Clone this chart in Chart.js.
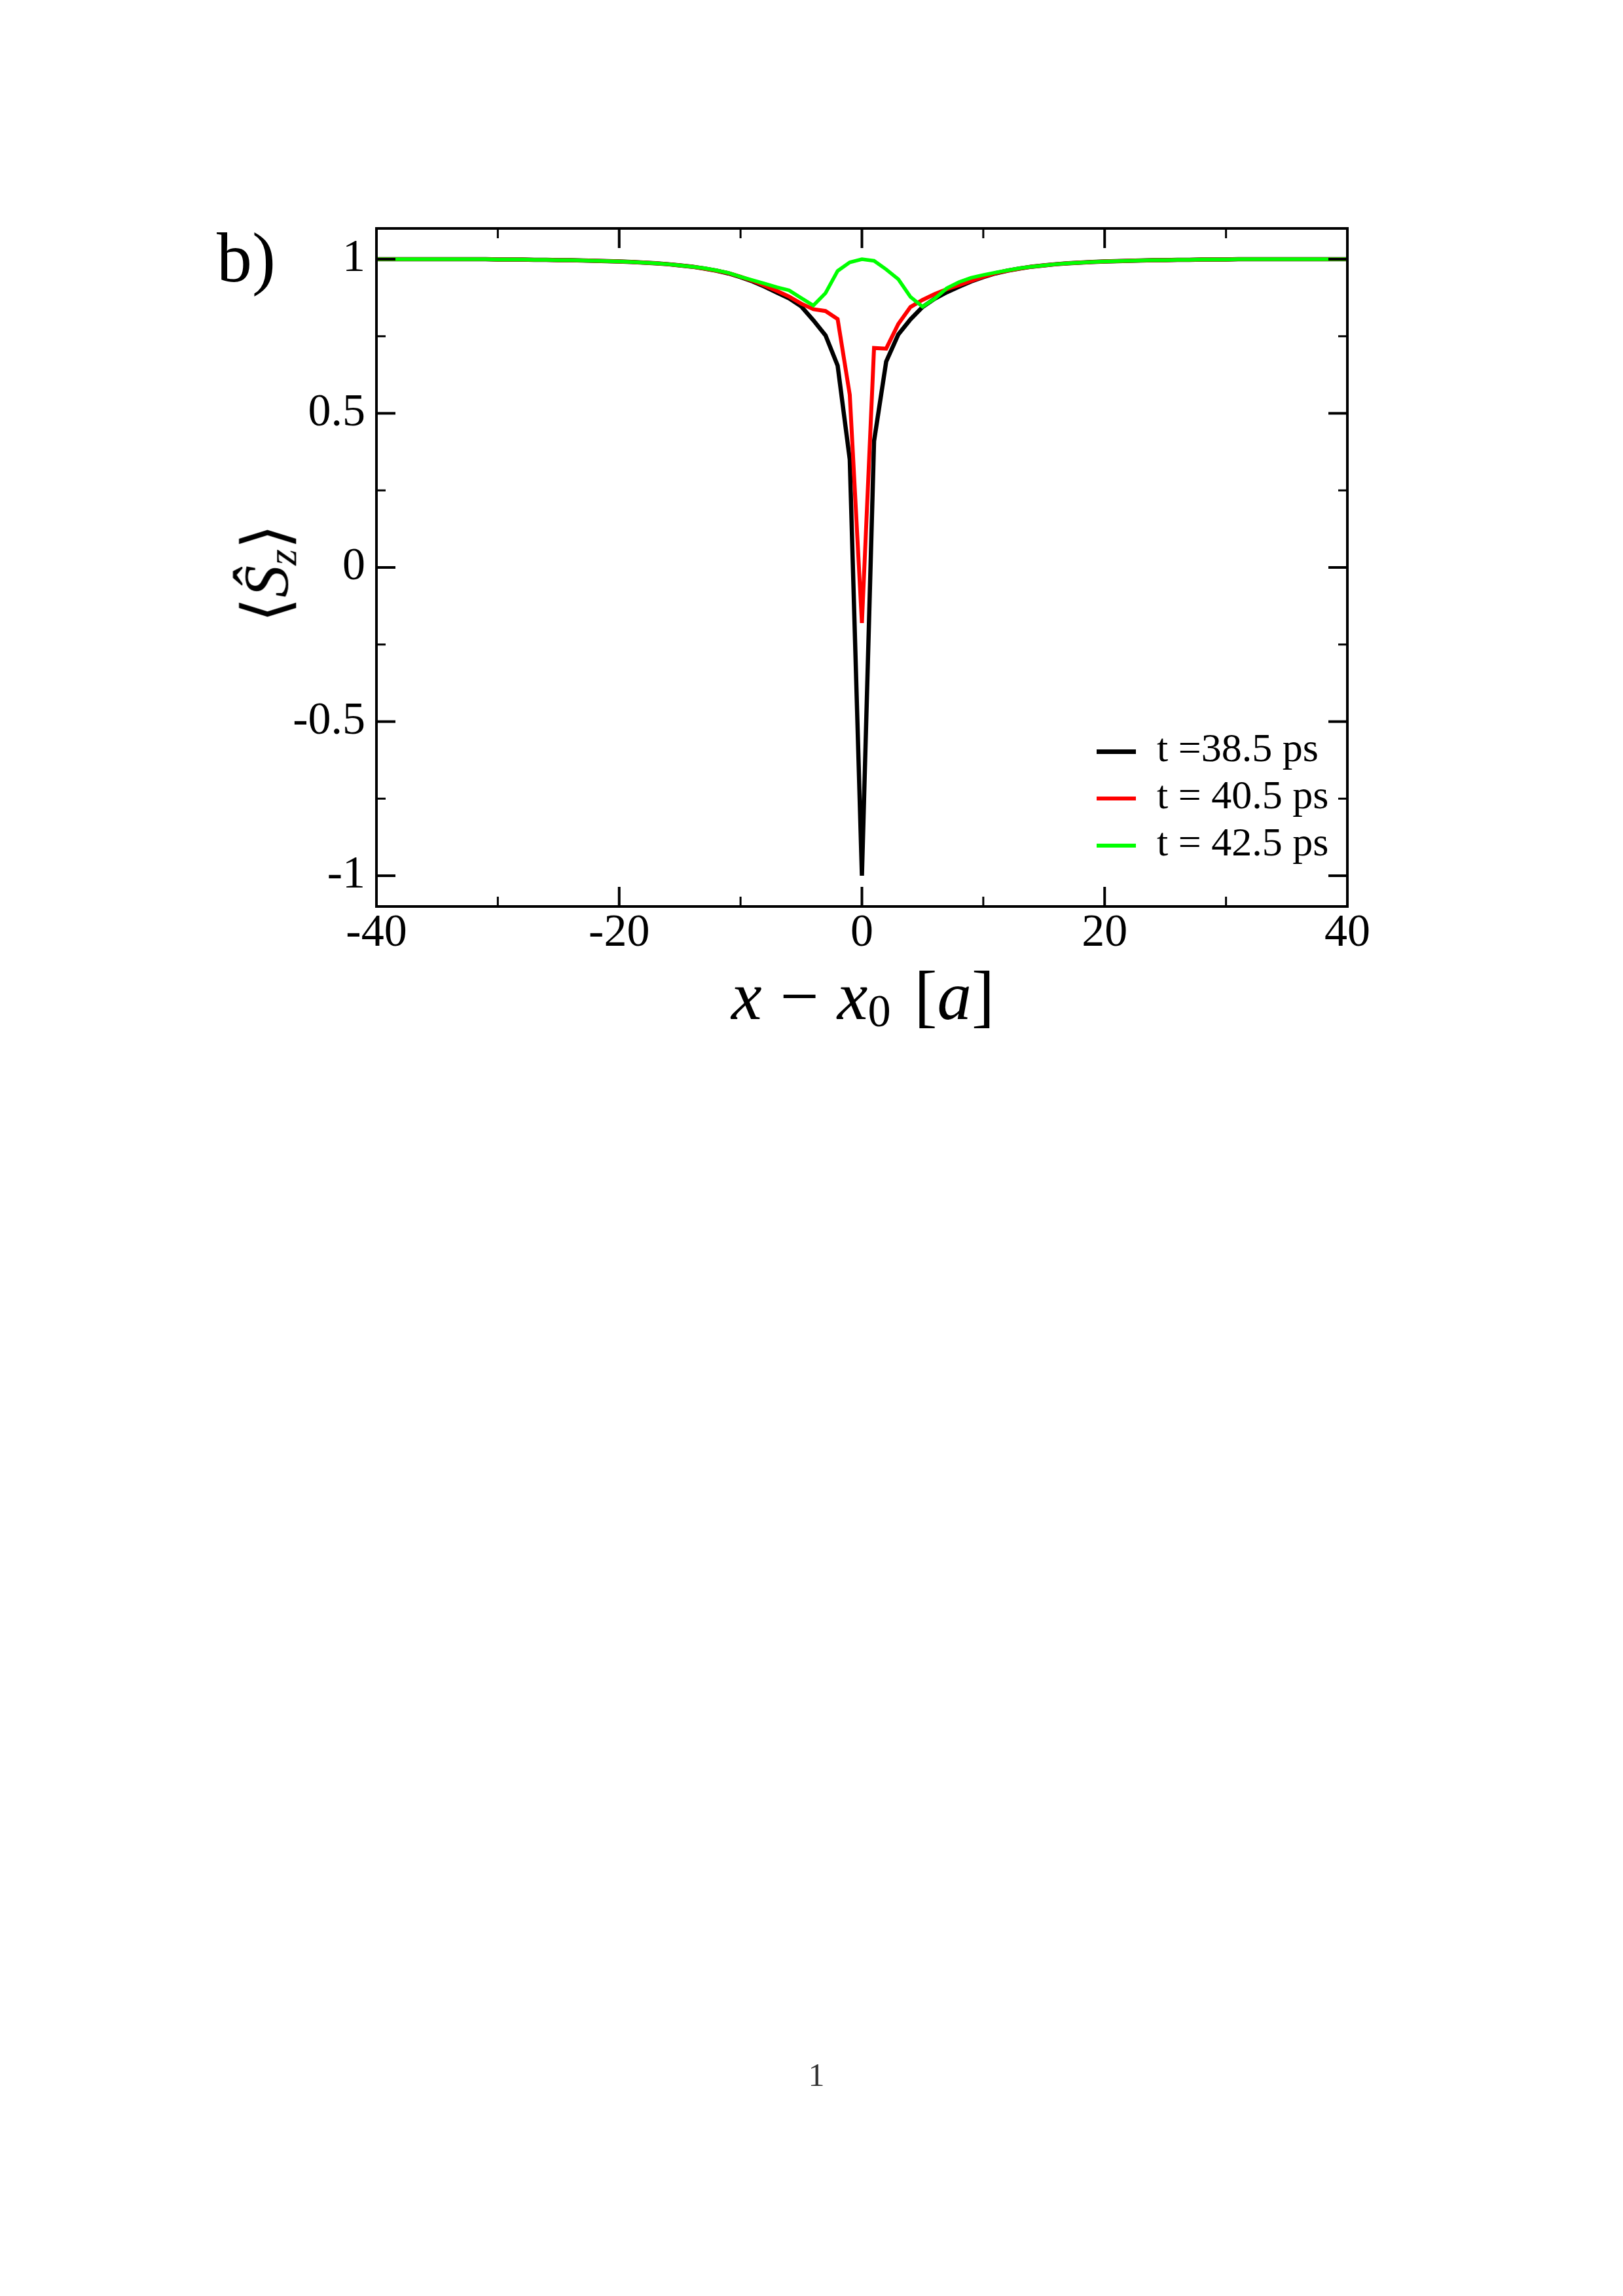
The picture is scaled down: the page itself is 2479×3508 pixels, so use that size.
<!DOCTYPE html>
<html>
<head>
<meta charset="utf-8">
<title>Sz profile</title>
<script src="https://cdn.jsdelivr.net/npm/chart.js@4.4.1/dist/chart.umd.min.js"></script>
<style>
  html, body { margin: 0; padding: 0; background: #fff; }
  body {
    width: 2479px; height: 3508px; position: relative; overflow: hidden;
    font-family: "Liberation Serif", "DejaVu Serif", serif; color: #000;
  }
  #chart-wrap { position: absolute; left: 0; top: 0; width: 2479px; height: 1700px; }
  .txt { position: absolute; white-space: nowrap; line-height: 1; }
  #panel-label { left: 331px; top: 340px; font-size: 108px; }
  #x-title { left: 1318px; top: 1469px; font-size: 105px; transform: translateX(-50%); }
  #x-title i { font-style: italic; }
  #x-title .op { margin: 0 28px; }
  #x-title sub { font-size: 0.67em; vertical-align: -0.16em; font-style: normal; }
  #x-title .unit { margin-left: 36px; }
  #y-title { left: 410px; top: 876px; font-size: 98px; transform: translate(-50%, -50%) rotate(-90deg); }
  #y-title sub { font-size: 0.65em; vertical-align: -0.2em; }
  #page-num { left: 1247px; top: 3145px; font-size: 50px; color: #333; transform: translateX(-50%); }
  .legend-line { position: absolute; left: 1675px; width: 60px; }
  .legend-text { position: absolute; left: 1767px; font-size: 62px; line-height: 1; white-space: nowrap; }
</style>
</head>
<body>
<div id="chart-wrap"><canvas id="szChart"></canvas></div>
<div class="txt" id="panel-label">b)</div>
<div class="txt" id="y-title">&#10216;<i>&#348;</i><sub><i>z</i></sub>&#10217;</div>
<div class="txt" id="x-title"><i>x</i><span class="op">&#8722;</span><i>x</i><sub>0</sub><span class="unit">[<i>a</i>]</span></div>
<div class="txt" id="page-num">1</div>
<div id="legend"></div>

<script>
const X_POS = [
  -40, -39, -38, -37, -36, -35, -34, -33, -32, -31,
  -30, -29, -28, -27, -26, -25, -24, -23, -22, -21,
  -20, -19, -18, -17, -16, -15, -14, -13, -12, -11,
  -10, -9, -8, -7, -6, -5, -4, -3, -2, -1,
  0,
  1, 2, 3, 4, 5, 6, 7, 8, 9, 10,
  11, 12, 13, 14, 15, 16, 17, 18, 19, 20,
  21, 22, 23, 24, 25, 26, 27, 28, 29, 30,
  31, 32, 33, 34, 35, 36, 37, 38, 39, 40,
];

// <Sz> at t = 38.5 ps
const SZ_T385 = [
  1.0, 1.0, 1.0, 1.0, 1.0, 1.0, 1.0, 1.0, 1.0, 1.0,
  0.999, 0.999, 0.999, 0.998, 0.998, 0.997, 0.997, 0.996, 0.995, 0.994,
  0.993, 0.991, 0.989, 0.987, 0.984, 0.980, 0.976, 0.970, 0.963, 0.954,
  0.942, 0.928, 0.911, 0.892, 0.873, 0.847, 0.802, 0.753, 0.655, 0.35,
  -1.0,
  0.41, 0.668, 0.756, 0.805, 0.845, 0.872, 0.893, 0.911, 0.928, 0.942,
  0.954, 0.963, 0.970, 0.976, 0.980, 0.984, 0.987, 0.989, 0.991, 0.993,
  0.994, 0.995, 0.996, 0.997, 0.997, 0.998, 0.998, 0.999, 0.999, 0.999,
  1.0, 1.0, 1.0, 1.0, 1.0, 1.0, 1.0, 1.0, 1.0, 1.0,
];

// <Sz> at t = 40.5 ps
const SZ_T405 = [
  1.0, 1.0, 1.0, 1.0, 1.0, 1.0, 1.0, 1.0, 1.0, 1.0,
  0.999, 0.999, 0.999, 0.998, 0.998, 0.997, 0.997, 0.996, 0.995, 0.994,
  0.993, 0.991, 0.989, 0.987, 0.984, 0.980, 0.976, 0.970, 0.963, 0.955,
  0.943, 0.930, 0.914, 0.897, 0.879, 0.856, 0.838, 0.832, 0.806, 0.56,
  -0.18,
  0.712, 0.71, 0.79, 0.845, 0.868, 0.887, 0.903, 0.916, 0.930, 0.943,
  0.955, 0.963, 0.970, 0.976, 0.980, 0.984, 0.987, 0.989, 0.991, 0.993,
  0.994, 0.995, 0.996, 0.997, 0.997, 0.998, 0.998, 0.999, 0.999, 0.999,
  1.0, 1.0, 1.0, 1.0, 1.0, 1.0, 1.0, 1.0, 1.0, 1.0,
];

// <Sz> at t = 42.5 ps
const SZ_T425 = [
  1.0, 1.0, 1.0, 1.0, 1.0, 1.0, 1.0, 1.0, 1.0, 1.0,
  0.999, 0.999, 0.999, 0.998, 0.998, 0.997, 0.997, 0.996, 0.995, 0.994,
  0.993, 0.991, 0.989, 0.987, 0.984, 0.980, 0.976, 0.971, 0.964, 0.956,
  0.943, 0.932, 0.921, 0.909, 0.899, 0.874, 0.85, 0.89, 0.962, 0.99,
  1.0,
  0.995, 0.967, 0.935, 0.878, 0.846, 0.872, 0.906, 0.926, 0.940, 0.949,
  0.957, 0.964, 0.971, 0.976, 0.980, 0.984, 0.987, 0.989, 0.991, 0.993,
  0.994, 0.995, 0.996, 0.997, 0.997, 0.998, 0.998, 0.999, 0.999, 0.999,
  1.0, 1.0, 1.0, 1.0, 1.0, 1.0, 1.0, 1.0, 1.0, 1.0,
];

const SERIES_LABELS = ["t =38.5 ps", "t = 40.5 ps", "t = 42.5 ps"];

const X_TICKS = [-40, -20, 0, 20, 40];
const X_MINOR_TICKS = [-30, -10, 10, 30];
const Y_TICKS = [-1, -0.5, 0, 0.5, 1];
const Y_MINOR_TICKS = [-0.75, -0.25, 0.25, 0.75];

function toPoints(values) {
  return X_POS.map((x, i) => ({ x, y: values[i] }));
}

// xmgrace-style box with inward ticks on all four sides
const frameTicks = {
  id: "frameTicks",
  afterDatasetsDraw(chart) {
    const { ctx, chartArea: a, scales } = chart;
    const sx = scales.x;
    const sy = scales.y;
    ctx.save();
    ctx.strokeStyle = "#000";
    ctx.lineCap = "butt";

    const tickX = (v, len) => {
      const px = sx.getPixelForValue(v);
      ctx.beginPath();
      ctx.moveTo(px, a.bottom);
      ctx.lineTo(px, a.bottom - len);
      ctx.moveTo(px, a.top);
      ctx.lineTo(px, a.top + len);
      ctx.stroke();
    };
    const tickY = (v, len) => {
      const py = sy.getPixelForValue(v);
      ctx.beginPath();
      ctx.moveTo(a.left, py);
      ctx.lineTo(a.left + len, py);
      ctx.moveTo(a.right, py);
      ctx.lineTo(a.right - len, py);
      ctx.stroke();
    };

    ctx.lineWidth = 4;
    X_TICKS.forEach((v) => tickX(v, 30));
    Y_TICKS.forEach((v) => tickY(v, 29));
    ctx.lineWidth = 3;
    X_MINOR_TICKS.forEach((v) => tickX(v, 15));
    Y_MINOR_TICKS.forEach((v) => tickY(v, 14));

    ctx.lineWidth = 4;
    ctx.strokeRect(a.left, a.top, a.right - a.left, a.bottom - a.top);
    ctx.restore();
  },
};

function renderLegend(chart) {
  const box = document.getElementById("legend");
  const rowCenters = [1148, 1220, 1292];
  chart.data.datasets.forEach((ds, i) => {
    const c = rowCenters[i];
    const w = ds.legendLineWidth;
    const line = document.createElement("div");
    line.className = "legend-line";
    line.style.top = `${c - w / 2}px`;
    line.style.height = `${w}px`;
    line.style.background = ds.borderColor;
    const text = document.createElement("div");
    text.className = "legend-text";
    text.style.top = `${c - 37}px`;
    text.textContent = ds.label;
    box.appendChild(line);
    box.appendChild(text);
  });
}

Chart.defaults.font.family = "'Liberation Serif', 'Times New Roman', serif";
Chart.defaults.color = "#000";

// order: higher is drawn first, so green ends up on top like the original
const ctx = document.getElementById("szChart");
const szChart = new Chart(ctx, {
  type: "line",
  data: {
    datasets: [
      { label: SERIES_LABELS[0], data: toPoints(SZ_T385), borderColor: "#000000", borderWidth: 6.5, legendLineWidth: 7, order: 3 },
      { label: SERIES_LABELS[1], data: toPoints(SZ_T405), borderColor: "#ff0000", borderWidth: 6, legendLineWidth: 6, order: 2 },
      { label: SERIES_LABELS[2], data: toPoints(SZ_T425), borderColor: "#00ff00", borderWidth: 5.5, legendLineWidth: 6, order: 1 },
    ].map((d) => ({ ...d, pointRadius: 0, tension: 0, fill: false })),
  },
  options: {
    responsive: true,
    maintainAspectRatio: false,
    devicePixelRatio: 1,
    animation: false,
    layout: { padding: { left: 375, top: 349, right: 421, bottom: 165 } },
    plugins: {
      legend: { display: false },
      tooltip: { enabled: false },
    },
    scales: {
      x: {
        type: "linear",
        min: -40,
        max: 40,
        afterBuildTicks: (s) => { s.ticks = X_TICKS.map((v) => ({ value: v })); },
        afterFit: (s) => { s.height = 150; },
        ticks: { callback: (v) => String(v), font: { size: 70 }, color: "#000", padding: 0, maxRotation: 0, autoSkip: false },
        grid: { display: false, drawTicks: false },
        border: { display: false },
      },
      y: {
        type: "linear",
        min: -1.1,
        max: 1.1,
        afterBuildTicks: (s) => { s.ticks = Y_TICKS.map((v) => ({ value: v })); },
        afterFit: (s) => { s.width = 200; },
        ticks: { callback: (v) => String(v), font: { size: 70 }, color: "#000", padding: 17 },
        grid: { display: false, drawTicks: false },
        border: { display: false },
      },
    },
  },
  plugins: [frameTicks],
});

renderLegend(szChart);
</script>
</body>
</html>
